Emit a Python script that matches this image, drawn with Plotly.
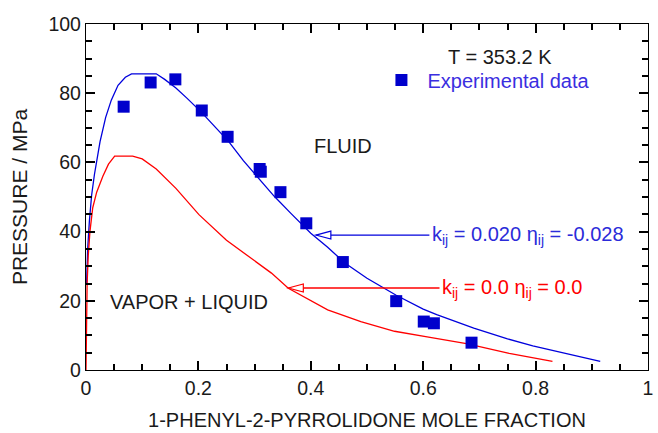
import plotly.graph_objects as go

# Experimental data (mole fraction, pressure MPa)
exp_x = [0.067, 0.115, 0.159, 0.206, 0.252, 0.309, 0.311, 0.346, 0.392, 0.457, 0.552, 0.601, 0.619, 0.686]
exp_p = [76.1, 83.1, 84.0, 75.0, 67.4, 58.1, 57.3, 51.4, 42.4, 31.2, 19.9, 14.0, 13.5, 7.9]

# Model curve kij = 0.020, eta_ij = -0.028 (blue)
blue_x = [0.001, 0.003, 0.006, 0.010, 0.015, 0.020, 0.025, 0.035, 0.045, 0.057, 0.070, 0.081,
          0.125, 0.140, 0.160, 0.180, 0.206, 0.230, 0.254, 0.280, 0.307, 0.335, 0.365, 0.400,
          0.430, 0.460, 0.500, 0.552, 0.600, 0.624, 0.690, 0.750, 0.795, 0.850, 0.915]
blue_p = [25.0, 35.0, 43.0, 50.5, 56.5, 61.0, 66.0, 73.0, 78.0, 82.3, 84.6, 85.6,
          85.6, 84.0, 81.5, 78.5, 74.4, 70.2, 66.0, 60.5, 55.3, 50.2, 45.2, 39.5,
          35.5, 31.0, 26.5, 21.6, 17.6, 16.0, 12.1, 9.0, 7.0, 5.0, 2.5]

# Model curve kij = 0.0, eta_ij = 0.0 (red)
red_x = [0.000, 0.001, 0.002, 0.004, 0.007, 0.012, 0.019, 0.030, 0.040, 0.051, 0.083, 0.100,
         0.125, 0.160, 0.201, 0.250, 0.289, 0.330, 0.360, 0.430, 0.489, 0.549, 0.607, 0.677,
         0.753, 0.830]
red_p = [0.0, 12.0, 25.0, 33.0, 40.0, 46.9, 51.4, 56.0, 59.5, 61.8, 61.8, 61.0,
         58.1, 52.5, 44.9, 37.5, 32.9, 28.0, 23.6, 17.4, 14.0, 11.2, 9.6, 7.6,
         4.8, 2.5]

BLUE = "#0000dd"
RED = "#ff0000"
TXT = "#1a1a1a"
FONT = "Liberation Sans, Arial, sans-serif"

fig = go.Figure()
fig.add_trace(go.Scatter(x=blue_x, y=blue_p, mode="lines",
                         line=dict(color=BLUE, width=1.3), showlegend=False))
fig.add_trace(go.Scatter(x=red_x, y=red_p, mode="lines",
                         line=dict(color=RED, width=1.3), showlegend=False))
fig.add_trace(go.Scatter(x=exp_x, y=exp_p, mode="markers", name="Experimental data",
                         marker=dict(symbol="square", size=12, color="#0000cc"),
                         showlegend=True))

fig.update_xaxes(range=[0, 1], dtick=0.2, showline=True, linecolor="black", linewidth=1.3,
                 mirror="allticks", ticks="inside", ticklen=9, tickwidth=2, tickcolor="black",
                 showgrid=False,
                 minor=dict(ticks="inside", ticklen=6, dtick=0.05, tickcolor="black", tickwidth=1.5),
                 tickfont=dict(family=FONT, size=19.5, color=TXT),
                 title=dict(text="1-PHENYL-2-PYRROLIDONE MOLE FRACTION",
                            font=dict(family=FONT, size=20, color=TXT)))
fig.update_yaxes(range=[0, 100], dtick=20, showline=True, linecolor="black", linewidth=1.3,
                 mirror="allticks", ticks="inside", ticklen=9, tickwidth=2, tickcolor="black",
                 showgrid=False,
                 minor=dict(ticks="inside", ticklen=6, dtick=5, tickcolor="black", tickwidth=1.5),
                 tickfont=dict(family=FONT, size=19.5, color=TXT),
                 title=dict(text="PRESSURE / MPa",
                            font=dict(family=FONT, size=21, color=TXT)))

annotations = [
    dict(x=0.737, y=90.4, text="T = 353.2 K", showarrow=False, xanchor="center", yanchor="middle",
         font=dict(family=FONT, size=20, color=TXT)),
    dict(x=0.457, y=64.6, text="FLUID", showarrow=False, xanchor="center", yanchor="middle",
         font=dict(family=FONT, size=20, color=TXT)),
    dict(x=0.040, y=19.7, text="VAPOR + LIQUID", showarrow=False, xanchor="left", yanchor="middle",
         font=dict(family=FONT, size=20, color=TXT)),
    dict(x=0.612, y=39.0, text="k<sub>ij</sub> = 0.020 η<sub>ij</sub> = -0.028", showarrow=False,
         xanchor="left", yanchor="middle", font=dict(family=FONT, size=20, color="#2b2bd9")),
    dict(x=0.630, y=23.7, text="k<sub>ij</sub> = 0.0 η<sub>ij</sub> = 0.0", showarrow=False,
         xanchor="left", yanchor="middle", font=dict(family=FONT, size=20, color=RED)),
]

shapes = []
for tip_x, tip_y, end_x, col in [(0.409, 39.0, 0.611, BLUE), (0.360, 23.7, 0.629, RED)]:
    shapes.append(dict(type="line", xref="x", yref="y", x0=tip_x, x1=end_x, y0=tip_y, y1=tip_y,
                       line=dict(color=col, width=1.3)))
    shapes.append(dict(type="path", xref="x", yref="y", xsizemode="pixel", ysizemode="pixel",
                       xanchor=tip_x, yanchor=tip_y, path="M0,0 L15,4 L15,-4 Z",
                       fillcolor="white", line=dict(color=col, width=1.2)))

fig.update_layout(
    width=658, height=433,
    margin=dict(l=86, r=5, t=24, b=53),
    paper_bgcolor="white", plot_bgcolor="white",
    annotations=annotations, shapes=shapes,
    showlegend=True,
    legend=dict(x=0.515, y=0.838, xanchor="left", yanchor="middle", bgcolor="rgba(0,0,0,0)",
                font=dict(family=FONT, size=20, color="#3a2ee0"), itemwidth=42),
)

fig.write_html("out.html")
